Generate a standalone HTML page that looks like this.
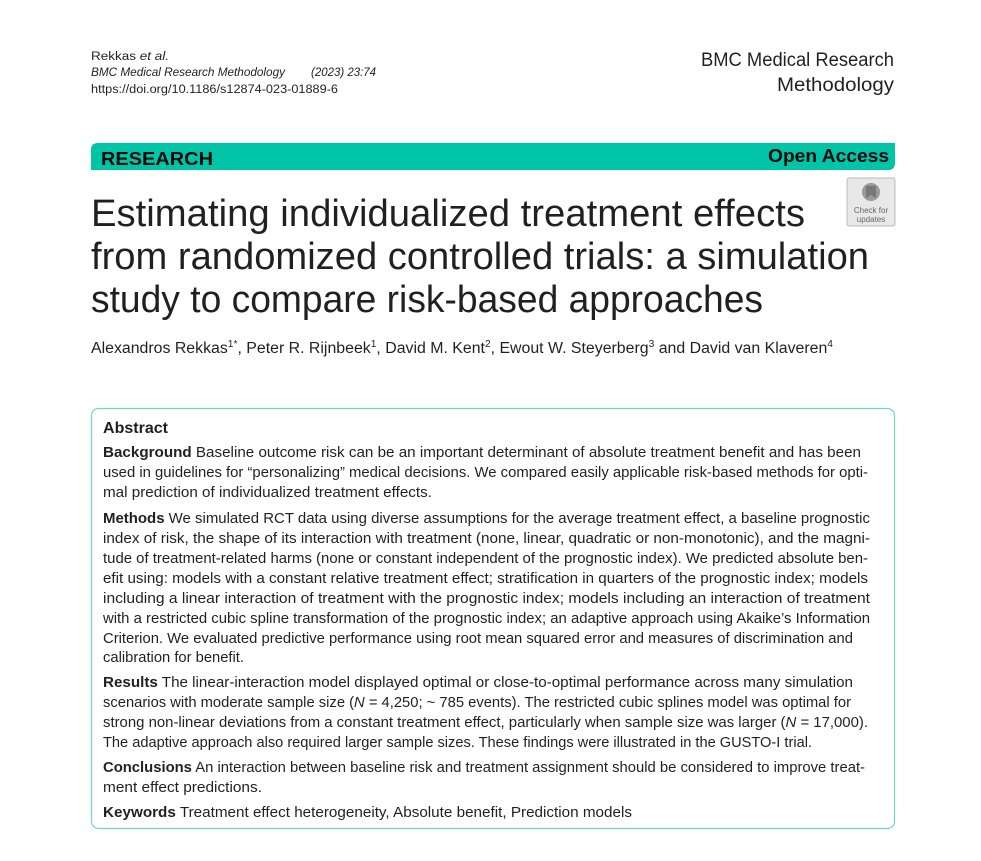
<!DOCTYPE html>
<html><head><meta charset="utf-8"><style>
html,body{margin:0;padding:0;background:#fff;}
svg{display:block;}
text{font-family:"Liberation Sans",sans-serif;fill:#231f20;}
.b{font-size:14.5px;}
</style></head><body>
<svg width="981" height="861" viewBox="0 0 981 861">
<rect width="981" height="861" fill="#fff"/>
<text x="91" y="60" font-size="11.5" textLength="78" lengthAdjust="spacingAndGlyphs">Rekkas <tspan font-style="italic">et al.</tspan></text>
<text x="91" y="76" font-size="11.5" font-style="italic" textLength="194" lengthAdjust="spacingAndGlyphs">BMC Medical Research Methodology</text>
<text x="311" y="76" font-size="11.5" font-style="italic" textLength="65" lengthAdjust="spacingAndGlyphs">(2023) 23:74</text>
<text x="91" y="93" font-size="11.5" textLength="247" lengthAdjust="spacingAndGlyphs">https://doi.org/10.1186/s12874-023-01889-6</text>
<text x="894" y="66" font-size="19" text-anchor="end" textLength="193" lengthAdjust="spacingAndGlyphs">BMC Medical Research</text>
<text x="894" y="91" font-size="19" text-anchor="end" textLength="117" lengthAdjust="spacingAndGlyphs">Methodology</text>
<path d="M98 143 H895 V163 Q895 170 888 170 H91 V150 Q91 143 98 143 Z" fill="#00c4a7"/>
<text x="101" y="165" font-size="18" font-weight="bold" textLength="112" lengthAdjust="spacingAndGlyphs" style="fill:#0a0a0a">RESEARCH</text>
<text x="889" y="162" font-size="18" font-weight="bold" text-anchor="end" textLength="121" lengthAdjust="spacingAndGlyphs" style="fill:#0a0a0a">Open Access</text>
<rect x="847" y="178" width="48" height="48" rx="2" fill="#e8e8e8" stroke="#bbb"/>
<circle cx="871" cy="192" r="9" fill="#9a9a9a"/>
<path d="M866 186 h10 v12 l-5 -3 l-5 3z" fill="#777"/>
<text x="871" y="213" font-size="8" text-anchor="middle" style="fill:#666">Check for</text>
<text x="871" y="222" font-size="8" text-anchor="middle" style="fill:#666">updates</text>
<text x="91" y="226" font-size="38" textLength="714" lengthAdjust="spacingAndGlyphs">Estimating individualized treatment effects</text>
<text x="91" y="269" font-size="38" textLength="778" lengthAdjust="spacingAndGlyphs">from randomized controlled trials: a simulation</text>
<text x="91" y="312" font-size="38" textLength="672" lengthAdjust="spacingAndGlyphs">study to compare risk-based approaches</text>
<text x="91" y="353" font-size="15.5" textLength="742" lengthAdjust="spacingAndGlyphs">Alexandros Rekkas<tspan font-size="10" dy="-6">1*</tspan><tspan dy="6">, Peter R. Rijnbeek</tspan><tspan font-size="10" dy="-6">1</tspan><tspan dy="6">, David M. Kent</tspan><tspan font-size="10" dy="-6">2</tspan><tspan dy="6">, Ewout W. Steyerberg</tspan><tspan font-size="10" dy="-6">3</tspan><tspan dy="6"> and David van Klaveren</tspan><tspan font-size="10" dy="-6">4</tspan></text>
<rect x="91.5" y="408.5" width="803" height="420" rx="7" fill="none" stroke="#6fd8c4" stroke-width="1.2"/>
<text x="103" y="433" font-size="15.5" font-weight="bold" textLength="65" lengthAdjust="spacingAndGlyphs">Abstract</text>
<g class="b">
<text x="103" y="457" textLength="758" lengthAdjust="spacingAndGlyphs"><tspan font-weight="bold">Background</tspan>  Baseline outcome risk can be an important determinant of absolute treatment benefit and has been</text>
<text x="103" y="477" textLength="765" lengthAdjust="spacingAndGlyphs">used in guidelines for “personalizing” medical decisions. We compared easily applicable risk-based methods for opti-</text>
<text x="103" y="497" textLength="329" lengthAdjust="spacingAndGlyphs">mal prediction of individualized treatment effects.</text>
<text x="103" y="523" textLength="767" lengthAdjust="spacingAndGlyphs"><tspan font-weight="bold">Methods</tspan>  We simulated RCT data using diverse assumptions for the average treatment effect, a baseline prognostic</text>
<text x="103" y="543" textLength="767" lengthAdjust="spacingAndGlyphs">index of risk, the shape of its interaction with treatment (none, linear, quadratic or non-monotonic), and the magni-</text>
<text x="103" y="563" textLength="765" lengthAdjust="spacingAndGlyphs">tude of treatment-related harms (none or constant independent of the prognostic index). We predicted absolute ben-</text>
<text x="103" y="583" textLength="765" lengthAdjust="spacingAndGlyphs">efit using: models with a constant relative treatment effect; stratification in quarters of the prognostic index; models</text>
<text x="103" y="603" textLength="767" lengthAdjust="spacingAndGlyphs">including a linear interaction of treatment with the prognostic index; models including an interaction of treatment</text>
<text x="103" y="623" textLength="767" lengthAdjust="spacingAndGlyphs">with a restricted cubic spline transformation of the prognostic index; an adaptive approach using Akaike’s Information</text>
<text x="103" y="643" textLength="750" lengthAdjust="spacingAndGlyphs">Criterion. We evaluated predictive performance using root mean squared error and measures of discrimination and</text>
<text x="103" y="662" textLength="141" lengthAdjust="spacingAndGlyphs">calibration for benefit.</text>
<text x="103" y="687" textLength="750" lengthAdjust="spacingAndGlyphs"><tspan font-weight="bold">Results</tspan>  The linear-interaction model displayed optimal or close-to-optimal performance across many simulation</text>
<text x="103" y="707" textLength="748" lengthAdjust="spacingAndGlyphs">scenarios with moderate sample size (<tspan font-style="italic">N</tspan> = 4,250; ~ 785 events). The restricted cubic splines model was optimal for</text>
<text x="103" y="727" textLength="765" lengthAdjust="spacingAndGlyphs">strong non-linear deviations from a constant treatment effect, particularly when sample size was larger (<tspan font-style="italic">N</tspan> = 17,000).</text>
<text x="103" y="747" textLength="709" lengthAdjust="spacingAndGlyphs">The adaptive approach also required larger sample sizes. These findings were illustrated in the GUSTO-I trial.</text>
<text x="103" y="772" textLength="762" lengthAdjust="spacingAndGlyphs"><tspan font-weight="bold">Conclusions</tspan>  An interaction between baseline risk and treatment assignment should be considered to improve treat-</text>
<text x="103" y="792" textLength="159" lengthAdjust="spacingAndGlyphs">ment effect predictions.</text>
<text x="103" y="817" textLength="529" lengthAdjust="spacingAndGlyphs"><tspan font-weight="bold">Keywords</tspan>  Treatment effect heterogeneity, Absolute benefit, Prediction models</text>
</g>
</svg>
</body></html>
